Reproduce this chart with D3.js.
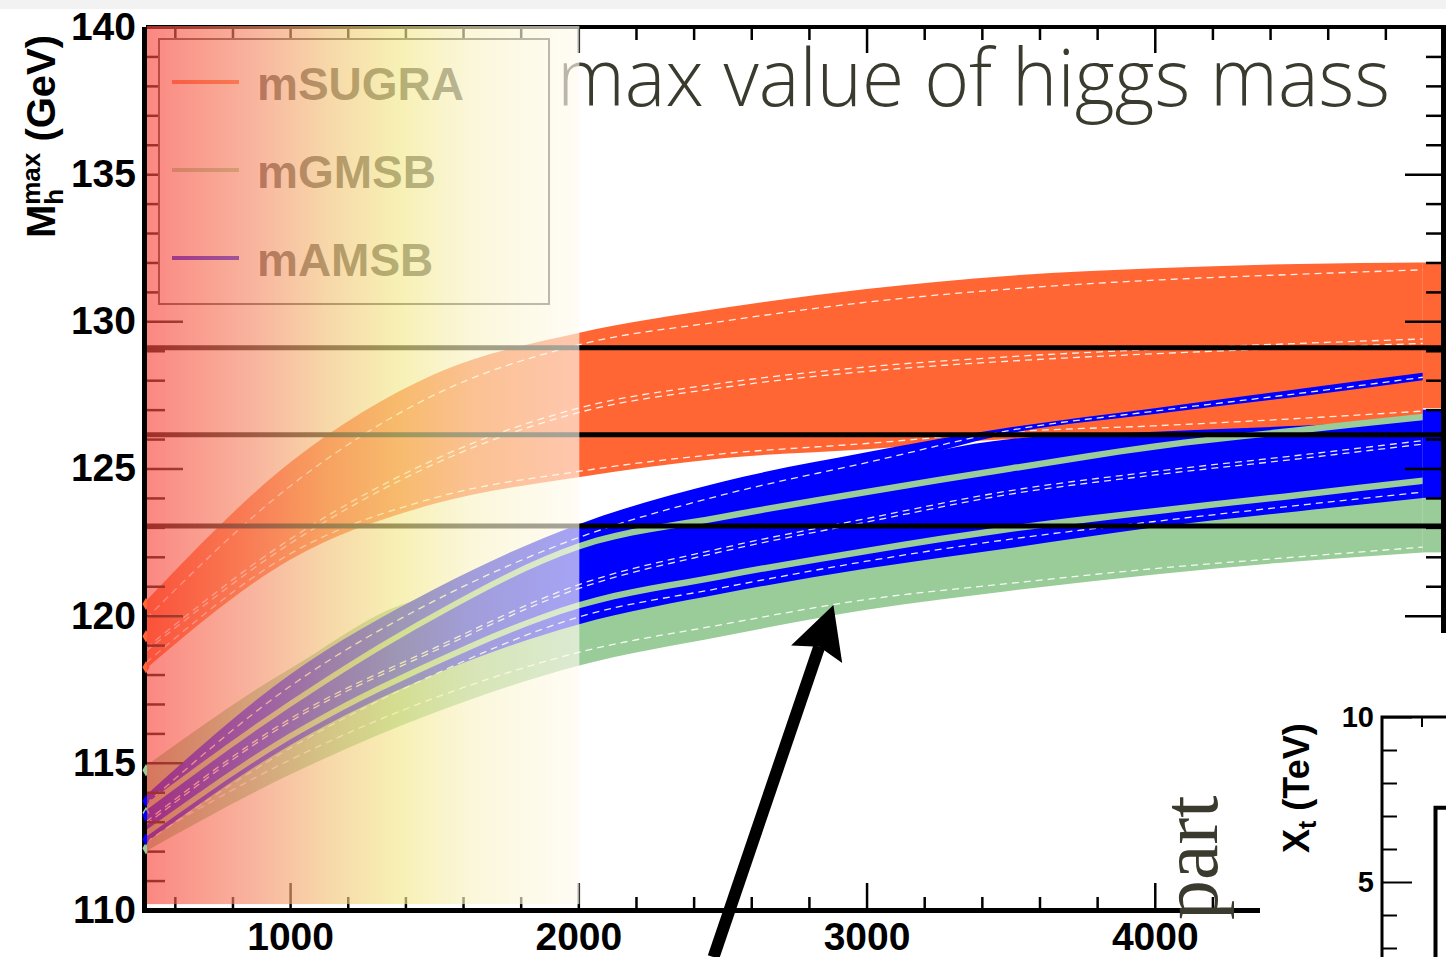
<!DOCTYPE html>
<html>
<head>
<meta charset="utf-8">
<script src="https://cdn.jsdelivr.net/npm/d3@7"></script>
<style>
  html, body { margin: 0; padding: 0; background: #fff; }
  svg { display: block; }
</style>
</head>
<body>
<svg id="chart" width="1446" height="957"></svg>
<script>
// ---- data -----------------------------------------------------------------
// stop mass scale (GeV) at which the curves are sampled
const stopMass = [500, 1000, 1500, 2000, 2500, 3000, 3500, 4000, 4500, 4930];

// mSUGRA envelope and its interior guide lines
const sugraUpper = [120.5, 125.2, 128.2, 129.6, 130.45, 131.1, 131.55, 131.8, 131.95, 132.0];
const sugraLower = [118.2, 121.9, 123.8, 124.7, 125.35, 125.65, 126.0, 126.1, 126.3, 126.5];
const sugraGuideA = [119.9, 124.4, 127.5, 129.2, 130.0, 130.65, 131.1, 131.4, 131.6, 131.75];
const sugraGuideB = [118.9, 122.6, 125.3, 127.05, 127.9, 128.45, 128.8, 129.05, 129.25, 129.4];
const sugraGuideC = [118.8, 122.45, 125.15, 126.9, 127.75, 128.3, 128.65, 128.9, 129.1, 129.25];
const sugraGuideD = [118.4, 122.1, 124.0, 124.9, 125.5, 125.85, 126.25, 126.45, 126.7, 126.95];

// mGMSB: lower band plus two narrow strips
const gmsbLower = [112.0, 114.6, 116.7, 118.3, 119.3, 120.2, 120.85, 121.4, 121.85, 122.15];
const gmsbUpper = [114.9, 118.2, 120.6, 120.7, 121.75, 122.6, 123.3, 124.0, 124.55, 125.0];
const gmsbGuide = [112.4, 115.1, 117.2, 118.75, 119.7, 120.55, 121.1, 121.6, 122.0, 122.33];
const gmsbStripA = [113.5, 117.0, 120.0, 122.35, 123.35, 124.2, 125.0, 125.75, 126.3, 126.75];
const gmsbStripB = [112.6, 115.9, 118.4, 120.35, 121.35, 122.2, 122.95, 123.55, 124.1, 124.58];

// mAMSB: main band and the steeper upper strip
const amsbMainUpper = [113.7, 117.6, 120.4, 122.8, 124.0, 125.1, 126.0, 126.25, 126.45, 126.65];
const amsbMainLower = [112.3, 115.6, 118.0, 119.7, 120.75, 121.6, 122.3, 123.0, 123.55, 124.0];
const amsbSteepUpper = [113.9, 118.0, 120.9, 123.1, 124.55, 125.55, 126.4, 127.05, 127.7, 128.25];
const amsbSteepLower = [113.4, 117.3, 120.1, 122.3, 123.7, 124.9, 126.2, 126.85, 127.45, 128.0];
const amsbGuideA = [113.6, 117.6, 120.5, 122.65, 124.1, 125.2, 126.3, 126.95, 127.55, 128.1];
const amsbGuideB = [113.0, 116.5, 118.9, 121.05, 122.3, 123.3, 124.25, 124.9, 125.45, 125.95];
const amsbGuideC = [112.9, 116.4, 118.8, 120.92, 122.18, 123.18, 124.13, 124.78, 125.33, 125.83];
const amsbGuideD = [112.3, 115.5, 118.0, 119.95, 120.95, 121.85, 122.6, 123.2, 123.75, 124.2];

// starting points at the lowest stop mass
const sugraStarts = [120.4, 119.3, 118.25];
const gmsbStarts = [114.75, 113.3, 112.1];
const amsbStarts = [113.7, 113.2, 112.4];

// ranges reached at the largest stop mass [low, high]
const endMass = [4930, 5000];
const sugraEnd = [127.05, 132.0];
const amsbEnd = [124.0, 127.0];
const gmsbEnd = [122.15, 124.0];

// measured Higgs mass band (central and +-3 GeV)
const higgsLevels = [123.05, 126.15, 129.1];

// axis ticks
const xMajor = [1000, 2000, 3000, 4000];
const xMinor = d3.range(600, 5000, 200).filter(v => v % 1000 !== 0);
const yMajor = [110, 115, 120, 125, 130, 135, 140];
const yMinor = d3.range(111, 140, 1).filter(v => v % 5 !== 0);

// legend
const legendNames = ["mSUGRA", "mGMSB", "mAMSB"];

// second panel: X_t axis
const xtMajor = [5, 10];
const xtMinor = [3, 4, 6, 7, 8, 9];

// ---- drawing --------------------------------------------------------------
const colors = { sugra: "#ff6633", gmsb: "#99cc99", amsb: "#0000ff" };
const svg = d3.select("#chart");
const x = d3.scaleLinear().domain([500, 5000]).range([146, 1443]);
const y = d3.scaleLinear().domain([110, 140]).range([910, 27]);
const idx = d3.range(stopMass.length);

const areaOf = (lo, hi) => d3.area()
  .x(i => x(stopMass[i])).y0(i => y(lo[i])).y1(i => y(hi[i]))
  .curve(d3.curveMonotoneX)(idx);
const lineOf = arr => d3.line()
  .x(i => x(stopMass[i])).y(i => y(arr[i]))
  .curve(d3.curveMonotoneX)(idx);
const strip = (c, hw) => [c.map(v => v - hw), c.map(v => v + hw)];

// faint band along the top edge
svg.append("rect").attr("x", 0).attr("y", 0).attr("width", 1446).attr("height", 9)
  .attr("fill", "#f2f2f2");

const plot = svg.append("g");

function fill(lo, hi, color) {
  plot.append("path").attr("d", areaOf(lo, hi)).attr("fill", color);
}
function guide(arr) {
  plot.append("path").attr("d", lineOf(arr)).attr("fill", "none")
    .attr("stroke", "#fff").attr("stroke-width", 1.3)
    .attr("stroke-dasharray", "7 5").attr("opacity", 0.9);
}

// mSUGRA
fill(sugraLower, sugraUpper, colors.sugra);
[sugraGuideA, sugraGuideB, sugraGuideC, sugraGuideD].forEach(guide);

// mGMSB lower band
fill(gmsbLower, gmsbUpper, colors.gmsb);
guide(gmsbGuide);

// mAMSB
fill(amsbMainLower, amsbMainUpper, colors.amsb);
fill(amsbSteepLower, amsbSteepUpper, colors.amsb);
[amsbGuideA, amsbGuideB, amsbGuideC, amsbGuideD].forEach(guide);

// mGMSB strips on top
const [aLo, aHi] = strip(gmsbStripA, 0.11);
const [bLo, bHi] = strip(gmsbStripB, 0.11);
fill(aLo, aHi, colors.gmsb);
fill(bLo, bHi, colors.gmsb);

// end-point ranges
[[sugraEnd, colors.sugra], [amsbEnd, colors.amsb], [gmsbEnd, colors.gmsb]].forEach(([r, c]) => {
  plot.append("rect")
    .attr("x", x(endMass[0])).attr("width", x(endMass[1]) - x(endMass[0]))
    .attr("y", y(r[1])).attr("height", y(r[0]) - y(r[1]))
    .attr("fill", c);
});

// Higgs mass reference lines
plot.selectAll(".ref").data(higgsLevels).join("line")
  .attr("x1", x(500)).attr("x2", x(5000))
  .attr("y1", d => y(d)).attr("y2", d => y(d))
  .attr("stroke", "#000").attr("stroke-width", 5);

// ---- axes -----------------------------------------------------------------
const axes = svg.append("g")
  .attr("font-family", "'Liberation Sans', Arial, sans-serif")
  .attr("font-weight", "bold");

function styleAxis(g) {
  g.select(".domain").remove();
  g.selectAll(".tick line").attr("stroke", "#000").attr("stroke-width", 2.5);
  g.selectAll(".tick text").attr("fill", "#000").attr("font-size", 39)
    .attr("font-family", "'Liberation Sans', Arial, sans-serif").attr("font-weight", "bold");
}

axes.append("g").attr("transform", `translate(0,${y(110)})`)
  .call(d3.axisBottom(x).tickValues(xMajor).tickSize(-27).tickPadding(12).tickFormat(d3.format("d")))
  .call(styleAxis);
axes.append("g").attr("transform", `translate(0,${y(110)})`)
  .call(d3.axisBottom(x).tickValues(xMinor).tickSize(-13).tickFormat(""))
  .call(styleAxis);
axes.append("g").attr("transform", `translate(0,${y(140)})`)
  .call(d3.axisTop(x).tickValues(xMajor).tickSize(-26).tickFormat(""))
  .call(styleAxis);
axes.append("g").attr("transform", `translate(0,${y(140)})`)
  .call(d3.axisTop(x).tickValues(xMinor).tickSize(-13).tickFormat(""))
  .call(styleAxis);
axes.append("g").attr("transform", `translate(${x(500)},0)`)
  .call(d3.axisLeft(y).tickValues(yMajor).tickSize(-37).tickPadding(10).tickFormat(d3.format("d")))
  .call(styleAxis);
axes.append("g").attr("transform", `translate(${x(500)},0)`)
  .call(d3.axisLeft(y).tickValues(yMinor).tickSize(-19).tickFormat(""))
  .call(styleAxis);
axes.append("g").attr("transform", `translate(${x(5000)},0)`)
  .call(d3.axisRight(y).tickValues(yMajor).tickSize(-38).tickFormat(""))
  .call(styleAxis);
axes.append("g").attr("transform", `translate(${x(5000)},0)`)
  .call(d3.axisRight(y).tickValues(yMinor).tickSize(-17).tickFormat(""))
  .call(styleAxis);

// frame
const frame = svg.append("g").attr("stroke", "#000").attr("fill", "none");
frame.append("line").attr("x1", x(500) - 1.5).attr("x2", x(500) - 1.5)
  .attr("y1", y(140)).attr("y2", y(110) + 2.5).attr("stroke-width", 5);
frame.append("line").attr("x1", x(500) - 4).attr("x2", x(5000) + 3)
  .attr("y1", y(110) + 0.5).attr("y2", y(110) + 0.5).attr("stroke-width", 5);
frame.append("line").attr("x1", x(500)).attr("x2", x(5000) + 3)
  .attr("y1", y(140)).attr("y2", y(140)).attr("stroke-width", 4);
frame.append("line").attr("x1", x(5000) + 0.5).attr("x2", x(5000) + 0.5)
  .attr("y1", y(140) - 2).attr("y2", y(110)).attr("stroke-width", 5);

// band starting points
const starts = svg.append("g");
[[sugraStarts, colors.sugra], [gmsbStarts, colors.gmsb], [amsbStarts, colors.amsb]].forEach(([arr, c]) => {
  starts.selectAll(null).data(arr).join("path")
    .attr("d", d3.symbol(d3.symbolDiamond, 45))
    .attr("transform", d => `translate(${x(500)},${y(d)})`)
    .attr("fill", c);
});

// y-axis title
const yTitle = svg.append("text")
  .attr("transform", "translate(55,238) rotate(-90)")
  .attr("font-family", "'Liberation Sans', Arial, sans-serif")
  .attr("font-weight", "bold").attr("font-size", 40).attr("fill", "#000");
yTitle.append("tspan").text("M");
yTitle.append("tspan").attr("font-size", 26).attr("dy", 8).text("h");
yTitle.append("tspan").attr("font-size", 26).attr("dx", -16).attr("dy", -23).text("max");
yTitle.append("tspan").attr("dy", 15).text(" (GeV)");

// legend
const legend = svg.append("g").attr("transform", "translate(159,39)");
legend.append("rect").attr("width", 390).attr("height", 265)
  .attr("fill", "#fff").attr("stroke", "#444").attr("stroke-width", 2);
const legendColors = [colors.sugra, colors.gmsb, colors.amsb];
const entry = legend.selectAll(".entry").data(legendNames).join("g")
  .attr("transform", (d, i) => `translate(0,${43 + i * 88})`);
entry.append("line").attr("x1", 13).attr("x2", 80)
  .attr("stroke", (d, i) => legendColors[i]).attr("stroke-width", 4);
entry.append("text").attr("x", 98).attr("y", 18).text(d => d)
  .attr("font-family", "'Liberation Sans', Arial, sans-serif")
  .attr("font-weight", "bold").attr("font-size", 46).attr("fill", "#444");

// slide title
svg.append("text").attr("x", 557).attr("y", 106)
  .attr("font-family", "'Open Sans', 'Noto Sans', sans-serif")
  .attr("font-weight", 300).attr("font-size", 80)
  .attr("textLength", 833).attr("lengthAdjust", "spacingAndGlyphs")
  .attr("fill", "#3a3a2e").text("max value of higgs mass");

// translucent colour wash over the low-mass region
const defs = svg.append("defs");
const grad = defs.append("linearGradient").attr("id", "wash")
  .attr("x1", "0%").attr("x2", "100%").attr("y1", "0%").attr("y2", "0%");
[[0, "#f8473e"], [0.26, "#f5906c"], [0.42, "#f3c37a"], [0.58, "#f3e88c"],
 [0.76, "#f9f3c8"], [1, "#fffbf0"]].forEach(([o, c]) =>
  grad.append("stop").attr("offset", o).attr("stop-color", c));
svg.append("rect").attr("x", x(500) + 1).attr("y", y(140) - 1)
  .attr("width", x(2000) - x(500)).attr("height", y(110.2) - y(140) + 1)
  .attr("fill", "url(#wash)").attr("opacity", 0.65);

// arrow pointing at the mGMSB band
const tail = [x(2469), y(108.4)];
const tip = [x(2885), y(120.36)];
{
  const dx = tip[0] - tail[0], dy = tip[1] - tail[1];
  const L = Math.hypot(dx, dy), ux = dx / L, uy = dy / L, nx = -uy, ny = ux;
  const P = (a, b) => [tip[0] + ux * a + nx * b, tip[1] + uy * a + ny * b];
  svg.append("line").attr("x1", tail[0]).attr("y1", tail[1])
    .attr("x2", P(-44, 0)[0]).attr("y2", P(-44, 0)[1])
    .attr("stroke", "#000").attr("stroke-width", 12);
  svg.append("path").attr("d", "M" + [tip, P(-52, -27), P(-44, 0), P(-52, 27)].map(p => p.join(",")).join("L") + "Z")
    .attr("fill", "#000");
}

// second panel, partly covering the corner
svg.append("rect").attr("x", 1260).attr("y", 633).attr("width", 186).attr("height", 324).attr("fill", "#fff");
const yt = d3.scaleLinear().domain([0, 10]).range([1047, 717]);
const inset = svg.append("g");
inset.append("path").attr("d", `M1382,957V${yt(10)}H1446`)
  .attr("fill", "none").attr("stroke", "#000").attr("stroke-width", 3);
inset.append("g").attr("transform", "translate(1382,0)")
  .call(d3.axisLeft(yt).tickValues(xtMajor).tickSize(-30).tickPadding(8).tickFormat(d3.format("d")))
  .call(g => {
    g.select(".domain").remove();
    g.selectAll(".tick line").attr("stroke", "#000").attr("stroke-width", 2);
    g.selectAll(".tick text").attr("font-size", 29).attr("font-weight", "bold")
      .attr("font-family", "'Liberation Sans', Arial, sans-serif").attr("fill", "#000");
  });
inset.append("g").attr("transform", "translate(1382,0)")
  .call(d3.axisLeft(yt).tickValues(xtMinor).tickSize(-15).tickFormat(""))
  .call(g => { g.select(".domain").remove(); g.selectAll(".tick line").attr("stroke", "#000").attr("stroke-width", 2); });
inset.append("line").attr("x1", 1422).attr("x2", 1422).attr("y1", yt(10)).attr("y2", yt(10) + 10)
  .attr("stroke", "#000").attr("stroke-width", 2);
inset.append("path").attr("d", `M1435.5,957V${yt(7.25)}H1446`)
  .attr("fill", "none").attr("stroke", "#000").attr("stroke-width", 4);
const xtTitle = inset.append("text").attr("transform", "translate(1309,853) rotate(-90)")
  .attr("font-family", "'Liberation Sans', Arial, sans-serif")
  .attr("font-weight", "bold").attr("font-size", 36).attr("fill", "#000");
xtTitle.append("tspan").text("X");
xtTitle.append("tspan").attr("font-size", 25).attr("dy", 7).text("t");
xtTitle.append("tspan").attr("dy", -7).text(" (TeV)");

// slide text running up the right side
svg.append("text").attr("transform", "translate(1217,920) rotate(-90)")
  .attr("font-family", "'Liberation Serif', 'Times New Roman', serif")
  .attr("font-size", 80).attr("fill", "#3a3a2e").text("part");
</script>
</body>
</html>
